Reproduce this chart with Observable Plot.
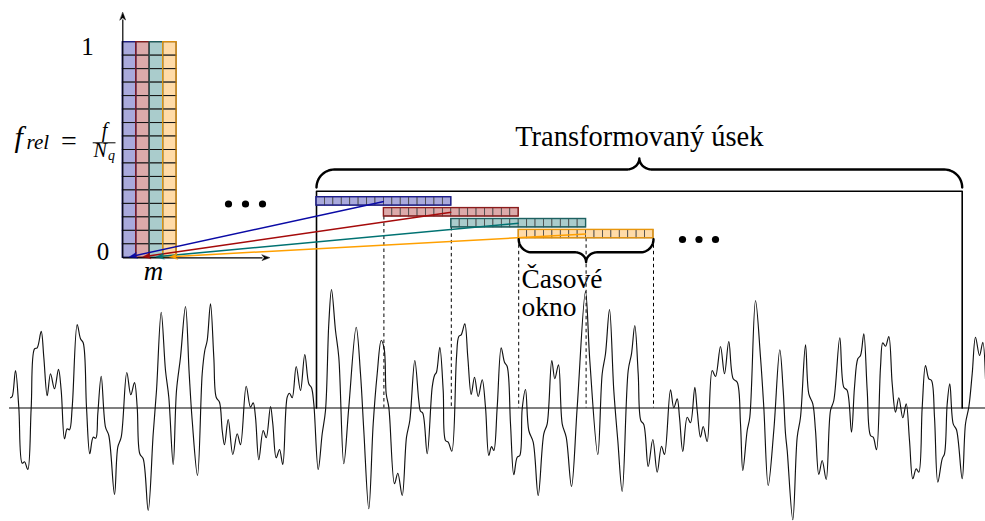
<!DOCTYPE html>
<html>
<head>
<meta charset="utf-8">
<script src="https://cdn.jsdelivr.net/npm/d3@7"></script>
<script src="https://cdn.jsdelivr.net/npm/@observablehq/plot@0.6"></script>
<style>body{margin:0;background:#fff} svg text{font-family:"Liberation Serif",serif}</style>
</head>
<body>
<script>
// ---------------- DATA ----------------
// Signal: sample positions (time) and amplitudes
const sigT = [10,11.7,15,18.3,21.7,24,27.3,30.7,34,36.7,40.7,43.3,46.7,50,54,58,60.7,64,66.7,69,71.7,76.7,80,82.7,86,89.3,92.7,95.3,97.3,100.7,105,108.3,114,117.3,120.7,126.3,130.3,134,136.7,139.3,142.7,147.7,152.7,156,160.7,165,168.3,172.7,176,180,185,188.7,191.7,197,201.7,204.3,206.7,210,213.3,215.7,219,221.7,224,227.7,232.3,236.7,240,245.7,250,252.7,255,258.3,262.7,265.7,270,272.3,275.7,279,282.3,286.7,289,291.7,295.7,300,304.3,308.3,311,313.3,317.7,321.7,325,328.3,331,335,338.3,343.3,348.3,355.7,360,363.3,368.3,372.7,376.7,380.7,383.7,385.7,388.3,394,397.3,401.7,406,409.3,414.3,418.3,420,422.3,426.7,431.7,434,436,439.3,442.7,445,447.7,451.3,456,458.3,460.7,464.3,467.3,470.7,474,477.7,481.7,485,488.3,491,493.3,496.7,500.7,504,506.7,510,513.3,516.7,519.3,521.7,525,528.3,532.7,537.7,543.3,546.7,551.3,554.3,558,561.7,565.7,571,576.7,585,589.3,597.3,601.7,605,609,613.3,617.3,621.7,627.7,631,634.3,637.7,640.3,643.3,647.7,652.3,656.7,661,664,670,673.3,676.7,679,682.3,686.7,690,694.3,696.7,700,702.7,706.7,711.7,715,720,724,728.3,732.7,736.7,740,742.3,746.7,749.3,755,760,763.3,767.7,773.3,779.3,782.7,785,786.7,792.3,796.7,800,805,808.3,812.3,815,818.3,821.7,825.7,830,833.3,839.3,843.3,846.7,851,854,857.3,860,863.3,866.7,870,872.7,876,880,882.3,885,888.3,891.7,895,898.3,902.3,905.7,909,912.3,915.7,918.3,921.7,925,928.3,931,934,937.3,941.7,944,946.7,949.3,952.7,956,961.7,965,968.3,971.7,975,979,982.3,985];
const sigAmp = [10.2,11.5,37.5,0.8,-55.2,-53.8,-61.5,0.5,59.2,60.2,76.8,50.8,12.2,34.2,19.2,38.8,17.5,-30.8,-20.8,-21.8,0.8,83.5,69.2,65.2,0.8,-45.8,-29.2,-30.2,-5.8,31.8,-19.2,-27.5,-86.5,-39.2,-29.2,35.5,13.2,25.5,0.8,-45.8,-50.8,-102.5,-25.8,17.5,95.8,37.5,10.8,-56.5,17.5,50.8,101.5,34.2,-12.5,-67.5,34.2,57.5,67.5,104.2,50.8,10.8,5.8,-22.5,-36.8,-11.5,-46.5,-25.8,-36.8,21.8,0.8,5.2,-9.2,-51.8,-22.5,-29.8,1.5,-15.8,-49.8,-41.5,-56.5,10.8,14.8,10.2,41.5,17.5,53.5,24.2,20.2,4.2,-61.5,-25.8,-2.5,84.2,118.5,77.5,50.8,-55.8,0.8,80.8,34.2,-22.5,-100.8,-15.8,34.2,67.5,59.2,14.2,0.8,-75.8,-65.2,-87.5,-29.2,-12.5,47.5,7.5,-3.2,-5.2,-45.8,20.8,32.5,35.8,60.8,17.5,-32.5,-34.2,-43.2,50.8,71.5,73.2,84.2,50.8,13.5,30.8,11.5,28.2,0.8,-47.5,-38.5,-42.5,0.8,60.2,45.8,41.5,-15.8,-66.8,-49.2,-47.5,-0.8,18.5,-22.5,-34.2,-87.5,-25.8,-15.8,47.5,29.2,43.2,-15.8,-29.2,-78.5,0.8,116.5,47.5,-46.5,34.2,54.2,98.5,17.5,-32.5,-83.5,37.5,54.2,82.5,34.2,-12.5,-16.5,-58.5,-31.5,-64.2,-38.2,-46.5,18.2,0.2,9.2,-9.2,-43.5,-9.2,-14.8,20.8,-2.5,-29.2,-18.5,-33.5,37.5,31.5,61.5,34.2,66.5,29.2,25.8,-15.8,-62.5,-22.5,-9.2,107.5,50.8,0.8,-77.5,-22.5,58.2,17.5,-25.8,-42.5,-111.8,-29.2,-9.2,63.2,14.2,4.2,-22.5,-66.5,-52.5,-71.5,-2.5,7.5,70.2,20.8,17.5,-24.2,20.8,49.2,52.5,74.2,17.5,-27.5,-29.2,-41.8,40.8,65.2,61.8,71.5,24.2,-4.2,10.2,-9.8,4.2,-32.5,-70.8,-60.8,-64.2,0.8,42.5,29.2,27.5,-9.2,-74.2,-50.8,-45.8,4.2,24.2,-15.8,-21.8,-70.8,-15.8,0.8,34.2,70.8,52.5,65.8,29.2];

// Time windows / spectrogram columns (one per window)
const windowNames = ["w1", "w2", "w3", "w4"];
const windowFill   = ["#a9a9dc", "#dcaaaa", "#aacccc", "#ffdba8"];
const windowStroke = ["#1c1c8c", "#8c1c1c", "#1d6161", "#e8960c"];
const arrowColor   = ["#0a0aa5", "#a50a0a", "#007272", "#ffa000"];
const nBins = 16;           // frequency bins per spectrum / samples per window
const yTickLabels = ["0", "1"];

// ---------------- LAYOUT ----------------
const W = 985, H = 521;
const axisY = 407.5;                 // signal zero line
const spec = {x0: 122.3, colW: 13.45, top: 41.7, bottom: 257.3};
const rowH = (spec.bottom - spec.top) / nBins;
const win = {x0: 316, hop: 67.4, top: 196.7, vstep: 10.9, h: 8.4};
const winW = 2 * win.hop, cellW = winW / nBins;
const frame = {x1: 316, x2: 961.7, top: 190.7};

const specCells = [], winCells = [];
windowNames.forEach((name, k) => {
  for (let r = 0; r < nBins; r++) specCells.push({k, x1: spec.x0 + k*spec.colW, x2: spec.x0 + (k+1)*spec.colW, y1: spec.top + r*rowH, y2: spec.top + (r+1)*rowH});
  for (let i = 0; i < nBins; i++) {
    const x = win.x0 + k*win.hop + i*cellW, y = win.top + k*win.vstep;
    winCells.push({k, x1: x, x2: x + cellW, y1: y, y2: y + win.h});
  }
});
const specCols = windowNames.map((n, k) => ({k, x1: spec.x0 + k*spec.colW, x2: spec.x0 + (k+1)*spec.colW, y1: spec.top, y2: spec.bottom}));
const winBoxes = windowNames.map((n, k) => ({k, x1: win.x0 + k*win.hop, x2: win.x0 + k*win.hop + winW, y1: win.top + k*win.vstep, y2: win.top + k*win.vstep + win.h}));

// dashed guides at window edges (except the frame's left edge)
const edges = [...new Set(winBoxes.flatMap(b => [b.x1, b.x2]).map(v => +v.toFixed(2)))].filter(x => x > frame.x1 + 1).sort((a,b)=>a-b);
const guides = edges.map(x => ({x, y1: d3.max(winBoxes.filter(b => b.x1 - 0.5 <= x && x <= b.x2 + 0.5), b => b.y2), y2: axisY}));

// arrows from window centres to spectrogram columns
const arrows = winBoxes.map(b => ({k: b.k, x1: (b.x1 + b.x2)/2, y1: (b.y1 + b.y2)/2, x2: spec.x0 + (b.k + 0.5)*spec.colW, y2: spec.bottom - 1}));

function head(a, L = 7.5, w = 2.8) {
  const dx = a.x2 - a.x1, dy = a.y2 - a.y1, len = Math.hypot(dx, dy), ux = dx/len, uy = dy/len, px = -uy, py = ux;
  const bx = a.x2 - ux*L, by = a.y2 - uy*L, ix = a.x2 - ux*L*0.7, iy = a.y2 - uy*L*0.7;
  return {pts: [[a.x2, a.y2], [bx + px*w, by + py*w], [ix, iy], [bx - px*w, by - py*w]], sx: ix, sy: iy};
}

function brace(x1, x2, yb, dir, r1, r2, tipW) {
  const xm = (x1 + x2)/2, yh = yb + dir*r1, n = 14, pts = [];
  for (let i = 0; i <= n; i++) { const t = i/n*Math.PI/2; pts.push([x1 + r1 - r1*Math.cos(t), yb + dir*r1*Math.sin(t)]); }
  for (let i = 0; i <= n; i++) { const t = i/n*Math.PI/2; pts.push([xm - tipW + tipW*Math.sin(t), yh + dir*r2 - dir*r2*Math.cos(t)]); }
  for (let i = n; i >= 0; i--) { const t = i/n*Math.PI/2; pts.push([xm + tipW - tipW*Math.sin(t), yh + dir*r2 - dir*r2*Math.cos(t)]); }
  for (let i = n; i >= 0; i--) { const t = i/n*Math.PI/2; pts.push([x2 - r1 + r1*Math.cos(t), yb + dir*r1*Math.sin(t)]); }
  return pts;
}

const signal = sigT.map((t, i) => ({t, a: sigAmp[i]}));
const serif = "Liberation Serif";
const last = winBoxes[winBoxes.length - 1];

const marks = [
  // signal
  Plot.ruleY([axisY], {x1: 9, x2: W, stroke: "#000", strokeWidth: 1.2}),
  Plot.line(signal, {x: "t", y: d => axisY - d.a, curve: "catmull-rom", stroke: "#111", strokeWidth: 1.15}),
  // frame of the transformed segment
  Plot.line([[frame.x1, axisY], [frame.x1, frame.top], [frame.x2, frame.top], [frame.x2, axisY]], {stroke: "#000", strokeWidth: 1.6}),
  // dashed guides
  Plot.ruleX(guides, {x: "x", y1: "y1", y2: "y2", stroke: "#000", strokeWidth: 1, strokeDasharray: "3.5,3"}),
  // spectrogram cells
  Plot.rect(specCells, {x1: "x1", x2: "x2", y1: "y1", y2: "y2", fill: d => windowFill[d.k], stroke: "#111", strokeWidth: 1}),
  Plot.rect(specCols, {x1: "x1", x2: "x2", y1: "y1", y2: "y2", fill: "none", stroke: d => windowStroke[d.k], strokeWidth: 1.2}),
  // window cells
  Plot.rect(winCells, {x1: "x1", x2: "x2", y1: "y1", y2: "y2", fill: d => windowFill[d.k], stroke: "#444", strokeWidth: 0.8}),
  Plot.rect(winBoxes, {x1: "x1", x2: "x2", y1: "y1", y2: "y2", fill: "none", stroke: d => windowStroke[d.k], strokeWidth: 1.4}),
  // spectrogram axes
  Plot.link([{x1: spec.x0, y1: spec.bottom, x2: spec.x0, y2: 19}, {x1: spec.x0, y1: spec.bottom, x2: 262, y2: spec.bottom}], {x1: "x1", y1: "y1", x2: "x2", y2: "y2", stroke: "#000", strokeWidth: 1.2}),
  Plot.line(head({x1: spec.x0, y1: 100, x2: spec.x0, y2: 12}).pts, {curve: "linear-closed", fill: "#000", stroke: "#000", strokeWidth: 0.5}),
  Plot.line(head({x1: 200, y1: spec.bottom, x2: 269, y2: spec.bottom}).pts, {curve: "linear-closed", fill: "#000", stroke: "#000", strokeWidth: 0.5}),
];
arrows.forEach(a => {
  const h = head(a);
  marks.push(Plot.link([a], {x1: "x1", y1: "y1", x2: () => h.sx, y2: () => h.sy, stroke: arrowColor[a.k], strokeWidth: 1.5}));
  marks.push(Plot.line(h.pts, {curve: "linear-closed", fill: arrowColor[a.k], stroke: arrowColor[a.k], strokeWidth: 0.5}));
});
marks.push(
  // braces
  Plot.line(brace(frame.x1, frame.x2, 187, -1, 18, 11, 13), {stroke: "#000", strokeWidth: 2.4, strokeLinejoin: "round"}),
  Plot.line(brace(last.x1, last.x2, last.y2 + 1, 1, 13, 10, 11), {stroke: "#000", strokeWidth: 2.4, strokeLinejoin: "round"}),
  // ellipses
  Plot.dot([0, 1, 2], {x: i => 228 + i*17, y: 203.5, r: 3.6, fill: "#000", stroke: "none"}),
  Plot.dot([0, 1, 2], {x: i => last.x2 + 29 + i*16.5, y: 239, r: 3.6, fill: "#000", stroke: "none"}),
  // labels
  Plot.text([yTickLabels[1]], {x: 87, y: 46, text: d => d, fontFamily: serif, fontSize: 25, fill: "#000"}),
  Plot.text([yTickLabels[0]], {x: 102.5, y: 251.5, text: d => d, fontFamily: serif, fontSize: 25, fill: "#000"}),
  Plot.text(["m"], {x: 153, y: 270.5, text: d => d, fontFamily: serif, fontStyle: "italic", fontSize: 27, fill: "#000"}),
  Plot.text(["f"], {x: 14, y: 136.7, text: d => d, textAnchor: "start", fontFamily: serif, fontStyle: "italic", fontSize: 30, fill: "#000"}),
  Plot.text(["rel"], {x: 26, y: 142.1, text: d => d, textAnchor: "start", fontFamily: serif, fontStyle: "italic", fontSize: 21, fill: "#000"}),
  Plot.text(["="], {x: 68.5, y: 140.4, text: d => d, fontFamily: serif, fontSize: 28, fill: "#000"}),
  Plot.ruleY([142.3], {x1: 92.7, x2: 115.5, stroke: "#000", strokeWidth: 1}),
  Plot.text(["f"], {x: 104, y: 129.6, text: d => d, fontFamily: serif, fontStyle: "italic", fontSize: 20, fill: "#000"}),
  Plot.text(["N"], {x: 93, y: 150.3, text: d => d, textAnchor: "start", fontFamily: serif, fontStyle: "italic", fontSize: 20, fill: "#000"}),
  Plot.text(["q"], {x: 107.5, y: 155.5, text: d => d, textAnchor: "start", fontFamily: serif, fontStyle: "italic", fontSize: 14, fill: "#000"}),
  Plot.text(["Transformovaný úsek"], {x: (frame.x1 + frame.x2)/2, y: 135.9, text: d => d, fontFamily: serif, fontSize: 28.5, fill: "#000"}),
  Plot.text(["Časové"], {x: 521, y: 278.5, text: d => d, textAnchor: "start", fontFamily: serif, fontSize: 27.5, fill: "#000"}),
  Plot.text(["okno"], {x: 521, y: 306.5, text: d => d, textAnchor: "start", fontFamily: serif, fontSize: 27.5, fill: "#000"})
);

const chart = Plot.plot({
  width: W, height: H, margin: 0,
  x: {domain: [0, W], range: [0, W], axis: null},
  y: {domain: [0, H], range: [0, H], axis: null},
  style: {background: "#fff", overflow: "visible", fontFamily: "Liberation Serif"},
  marks
});
document.body.appendChild(chart);
</script>
</body>
</html>
